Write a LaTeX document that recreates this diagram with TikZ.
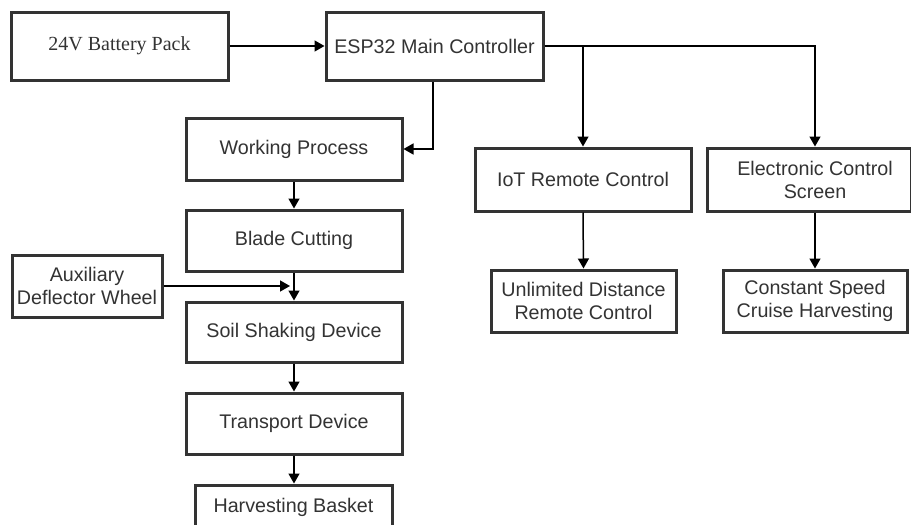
\documentclass[tikz,border=0pt]{standalone}
\usepackage{fontspec}
\setmainfont{Liberation Sans}
\newfontfamily\serifface{Liberation Serif}
\usetikzlibrary{arrows.meta}
\begin{document}
\begin{tikzpicture}[x=1pt,y=-1pt,
  box/.style={draw=black!80, line width=3pt, rectangle, inner sep=0pt,
    text=black!80, font=\fontsize{19.7}{23}\selectfont, align=center},
  txt/.style={inner sep=0pt, text=black!80, font=\fontsize{19.7}{23}\selectfont, align=center},
  arr/.style={draw=black, line width=1.5pt, -{Triangle[length=10pt,width=11pt]}}]
\useasboundingbox (0,0) rectangle (911,525);
\clip (0,0) rectangle (911,525);
\fill[white] (0,0) rectangle (911,525);
% nodes
\node[box, minimum width=217, minimum height=68, font=\serifface\fontsize{20}{23}\selectfont] (bat) at (119.5,46) {24V Battery Pack};
\node[box, minimum width=217, minimum height=68] (esp) at (434.5,46) {ESP32 Main Controller};
\node[box, minimum width=216, minimum height=62] (wp) at (294,149) {Working Process};
\node[box, minimum width=216, minimum height=61] (bc) at (294,240.5) {Blade Cutting};
\node[box, minimum width=150, minimum height=62] (aux) at (87,286) {Auxiliary\\Deflector Wheel};
\node[box, minimum width=216, minimum height=60] (soil) at (294,332) {Soil Shaking Device};
\node[box, minimum width=216, minimum height=61] (tr) at (294,423.5) {Transport Device};
\node[box, minimum width=197, minimum height=44] (hb) at (293.5,507) {Harvesting Basket};
\node[box, minimum width=216, minimum height=63] (iot) at (583,179.5) {IoT Remote Control};
\node[box, minimum width=204, minimum height=63] (ecs) at (809,179.5) {};
\node[txt] (ecst) at (815,179.5) {Electronic Control\\Screen};
\node[box, minimum width=185, minimum height=62] (unl) at (583.5,301) {Unlimited Distance\\Remote Control};
\node[box, minimum width=184, minimum height=62] (con) at (815,301) {Constant Speed\\Cruise Harvesting};
\coordinate (auxend) at (290,286);
% connectors
\draw[arr] (bat.east) -- (esp.west);
\draw[arr] ([xshift=-1.5pt]esp.south) |- (wp.east);
\draw[arr] (esp.east) -| (iot.north);
\draw[arr] (esp.east) -| (ecst |- ecs.north);
\draw[arr] (iot.south) -- (unl.north);
\draw[arr] (ecst |- ecs.south) -- (con.north);
\draw[arr] (wp.south) -- (bc.north);
\draw[arr] (bc.south) -- (soil.north);
\draw[arr] (aux.east) -- (auxend);
\draw[arr] (soil.south) -- (tr.north);
\draw[arr] (tr.south) -- ([xshift=0.5pt]hb.north);
\end{tikzpicture}
\end{document}
